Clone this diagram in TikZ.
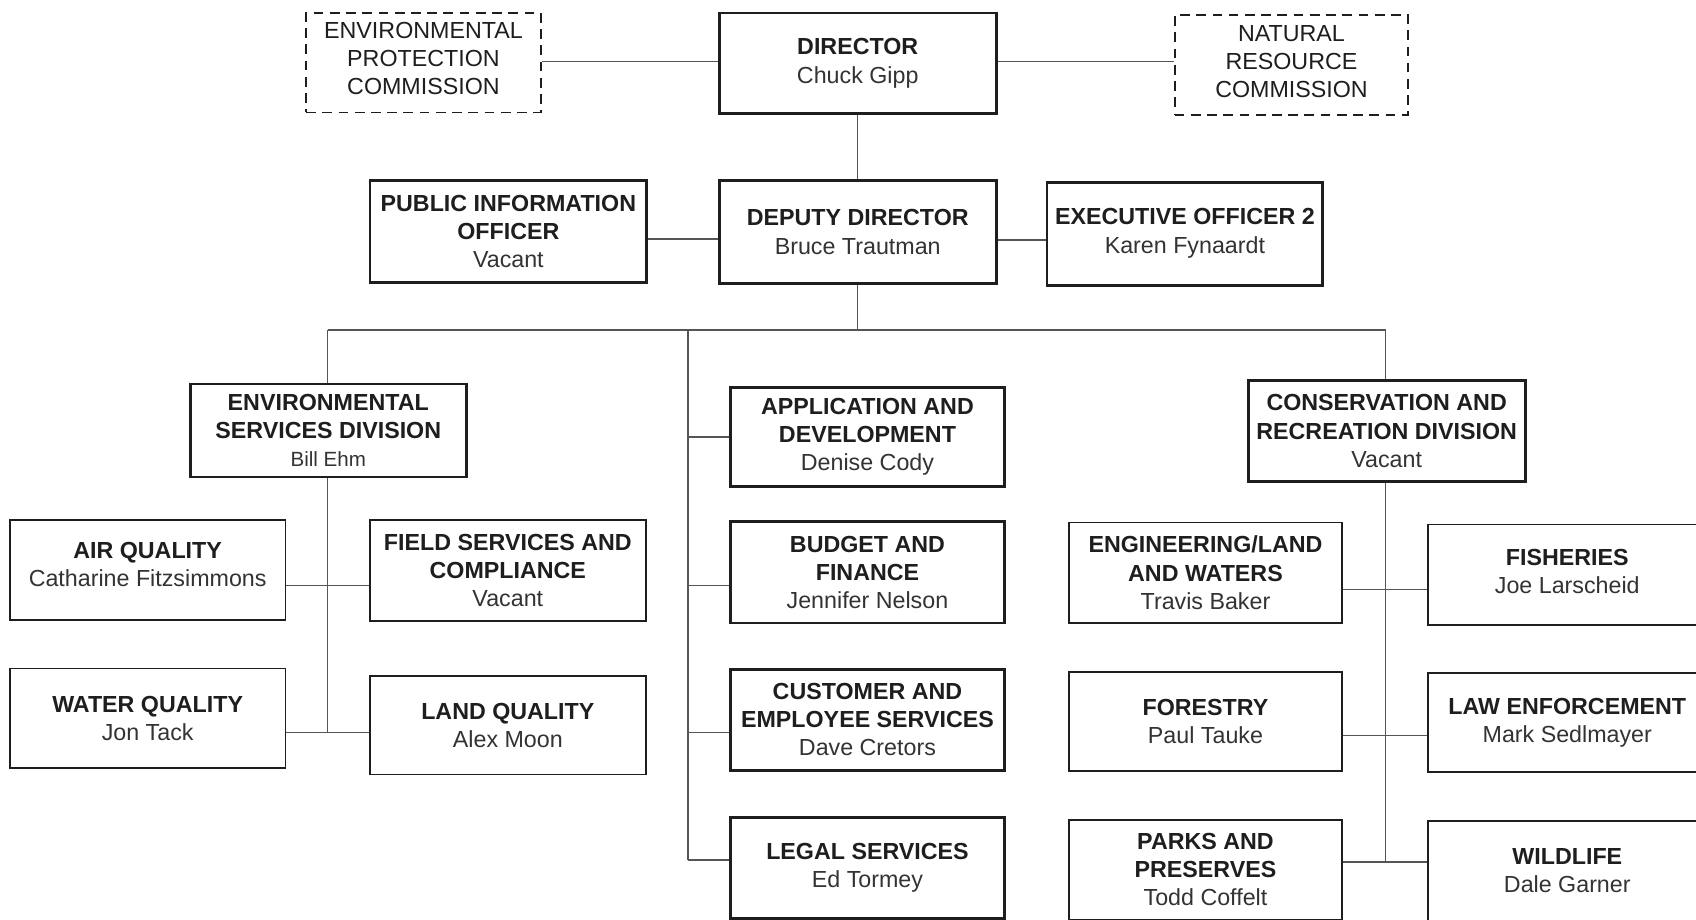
\documentclass[tikz,border=0pt]{standalone}
\usepackage{fontspec}
\setmainfont{Liberation Sans}
\definecolor{ink}{HTML}{1E1E1E}
\definecolor{nm}{HTML}{333333}
\definecolor{ln}{HTML}{555555}
\newcommand\ttl[1]{\textbf{#1}}
\begin{document}
\begin{tikzpicture}[x=1pt,y=-1pt,
  every node/.style={font=\fontsize{21.5}{26}\selectfont, text=ink, align=center, inner sep=0pt},
  bigbox/.style={draw=ink, line width=2.6pt},
  smallbox/.style={draw=ink, line width=1.6pt},
  dashbox/.style={draw=ink, line width=1.8pt, dash pattern=on 9pt off 6pt},
  conn/.style={draw=ln, line width=1.2pt}
]
\useasboundingbox[fill=white] (0,0) rectangle (1568,850);

% top row
\node[dashbox, minimum width=217, minimum height=92] (epc) at (391.5,58) {ENVIRONMENTAL\\PROTECTION\\COMMISSION\\[-18pt]};
\node[bigbox, minimum width=256, minimum height=93] (dir) at (793,58.5) {\ttl{DIRECTOR}\\\textcolor{nm}{Chuck Gipp}};
\node[dashbox, minimum width=216, minimum height=92] (nrc) at (1194,60) {NATURAL\\RESOURCE\\COMMISSION\\[-20pt]};

% second row
\node[bigbox, minimum width=256, minimum height=94] (pio) at (470,214) {\ttl{PUBLIC INFORMATION}\\\ttl{OFFICER}\\\textcolor{nm}{Vacant}};
\node[bigbox, minimum width=256, minimum height=95] (dep) at (793,214.5) {\ttl{DEPUTY DIRECTOR}\\\textcolor{nm}{Bruce Trautman}};
\node[bigbox, minimum width=255, minimum height=95] (eo) at (1095.5,216.5) {\ttl{EXECUTIVE OFFICER 2}\\\textcolor{nm}{Karen Fynaardt}\\[-20pt]};

% divisions
\node[bigbox, minimum width=255, minimum height=86] (esd) at (303.5,398) {\ttl{ENVIRONMENTAL}\\\ttl{SERVICES DIVISION}\\\textcolor{nm}{\fontsize{19}{24}\selectfont Bill Ehm}};
\node[bigbox, minimum width=256, minimum height=93] (crd) at (1282,398.5) {\ttl{CONSERVATION AND}\\\ttl{RECREATION DIVISION}\\\textcolor{nm}{Vacant}};

% center column
\node[bigbox, minimum width=254, minimum height=92] (app) at (802,404) {\ttl{APPLICATION AND}\\\ttl{DEVELOPMENT}\\\textcolor{nm}{Denise Cody}};
\node[bigbox, minimum width=254, minimum height=94] (bud) at (802,529) {\ttl{BUDGET AND}\\\ttl{FINANCE}\\\textcolor{nm}{Jennifer Nelson}};
\node[bigbox, minimum width=254, minimum height=93] (cus) at (802,665.5) {\ttl{CUSTOMER AND}\\\ttl{EMPLOYEE SERVICES}\\\textcolor{nm}{Dave Cretors}};
\node[bigbox, minimum width=254, minimum height=93] (leg) at (802,802.5) {\ttl{LEGAL SERVICES}\\\textcolor{nm}{Ed Tormey}};

% left units
\node[smallbox, minimum width=255, minimum height=92] (air) at (136.5,527) {\ttl{AIR QUALITY}\\\textcolor{nm}{Catharine Fitzsimmons}\\[-16pt]};
\node[smallbox, minimum width=255, minimum height=93] (fsc) at (469.5,527.5) {\ttl{FIELD SERVICES AND}\\\ttl{COMPLIANCE}\\\textcolor{nm}{Vacant}};
\node[smallbox, minimum width=255, minimum height=92] (wat) at (136.5,664) {\ttl{WATER QUALITY}\\\textcolor{nm}{Jon Tack}};
\node[smallbox, minimum width=255, minimum height=91] (lan) at (469.5,670.5) {\ttl{LAND QUALITY}\\\textcolor{nm}{Alex Moon}};

% right units
\node[smallbox, minimum width=253, minimum height=93] (eng) at (1114.5,529.5) {\ttl{ENGINEERING/LAND}\\\ttl{AND WATERS}\\\textcolor{nm}{Travis Baker}};
\node[smallbox, minimum width=258, minimum height=93] (fis) at (1449,531.5) {\ttl{FISHERIES}\\\textcolor{nm}{Joe Larscheid}\\[-20pt]};
\node[smallbox, minimum width=253, minimum height=92] (for) at (1114.5,667) {\ttl{FORESTRY}\\\textcolor{nm}{Paul Tauke}};
\node[smallbox, minimum width=258, minimum height=92] (law) at (1449,668) {\ttl{LAW ENFORCEMENT}\\\textcolor{nm}{Mark Sedlmayer}};
\node[smallbox, minimum width=253, minimum height=92] (par) at (1114.5,804) {\ttl{PARKS AND}\\\ttl{PRESERVES}\\\textcolor{nm}{Todd Coffelt}};
\node[smallbox, minimum width=258, minimum height=92] (wil) at (1449,805) {\ttl{WILDLIFE}\\\textcolor{nm}{Dale Garner}};

% junction coordinates
\coordinate (bus) at (793,305);
\coordinate (busL) at (303,305);
\coordinate (busC) at (636,305);
\coordinate (busR) at (1281,305);
\coordinate (cA) at (636,404);
\coordinate (cB) at (636,541);
\coordinate (cC) at (636,677);
\coordinate (cD) at (636,795);
\coordinate (lA) at (303,541);
\coordinate (lB) at (303,677);
\coordinate (rA) at (1281,545);
\coordinate (rB) at (1281,680);
\coordinate (rC) at (1281,797);

% connectors
\draw[conn] (epc.east |- 0,57) -- (dir.west |- 0,57);
\draw[conn] (dir.east |- 0,57) -- (nrc.west |- 0,57);
\draw[conn] (dir.south) -- (dep.north);
\draw[conn] (pio.east |- 0,221) -- (dep.west |- 0,221);
\draw[conn] (dep.east |- 0,222) -- (eo.west |- 0,222);
\draw[conn] (dep.south) -- (bus);
\draw[conn] (busL) -- (busR);
\draw[conn] (busL) -- (esd.north -| busL);
\draw[conn] (busR) -- (crd.north -| busR);
\draw[conn] (busC) -- (cD);
\draw[conn] (cA) -- (app.west |- cA);
\draw[conn] (cB) -- (bud.west |- cB);
\draw[conn] (cC) -- (cus.west |- cC);
\draw[conn] (cD) -- (leg.west |- cD);
\draw[conn] (esd.south -| lA) -- (lB);
\draw[conn] (air.east |- lA) -- (fsc.west |- lA);
\draw[conn] (wat.east |- lB) -- (lan.west |- lB);
\draw[conn] (crd.south -| rA) -- (rC);
\draw[conn] (eng.east |- rA) -- (fis.west |- rA);
\draw[conn] (for.east |- rB) -- (law.west |- rB);
\draw[conn] (par.east |- rC) -- (wil.west |- rC);
\end{tikzpicture}
\end{document}
